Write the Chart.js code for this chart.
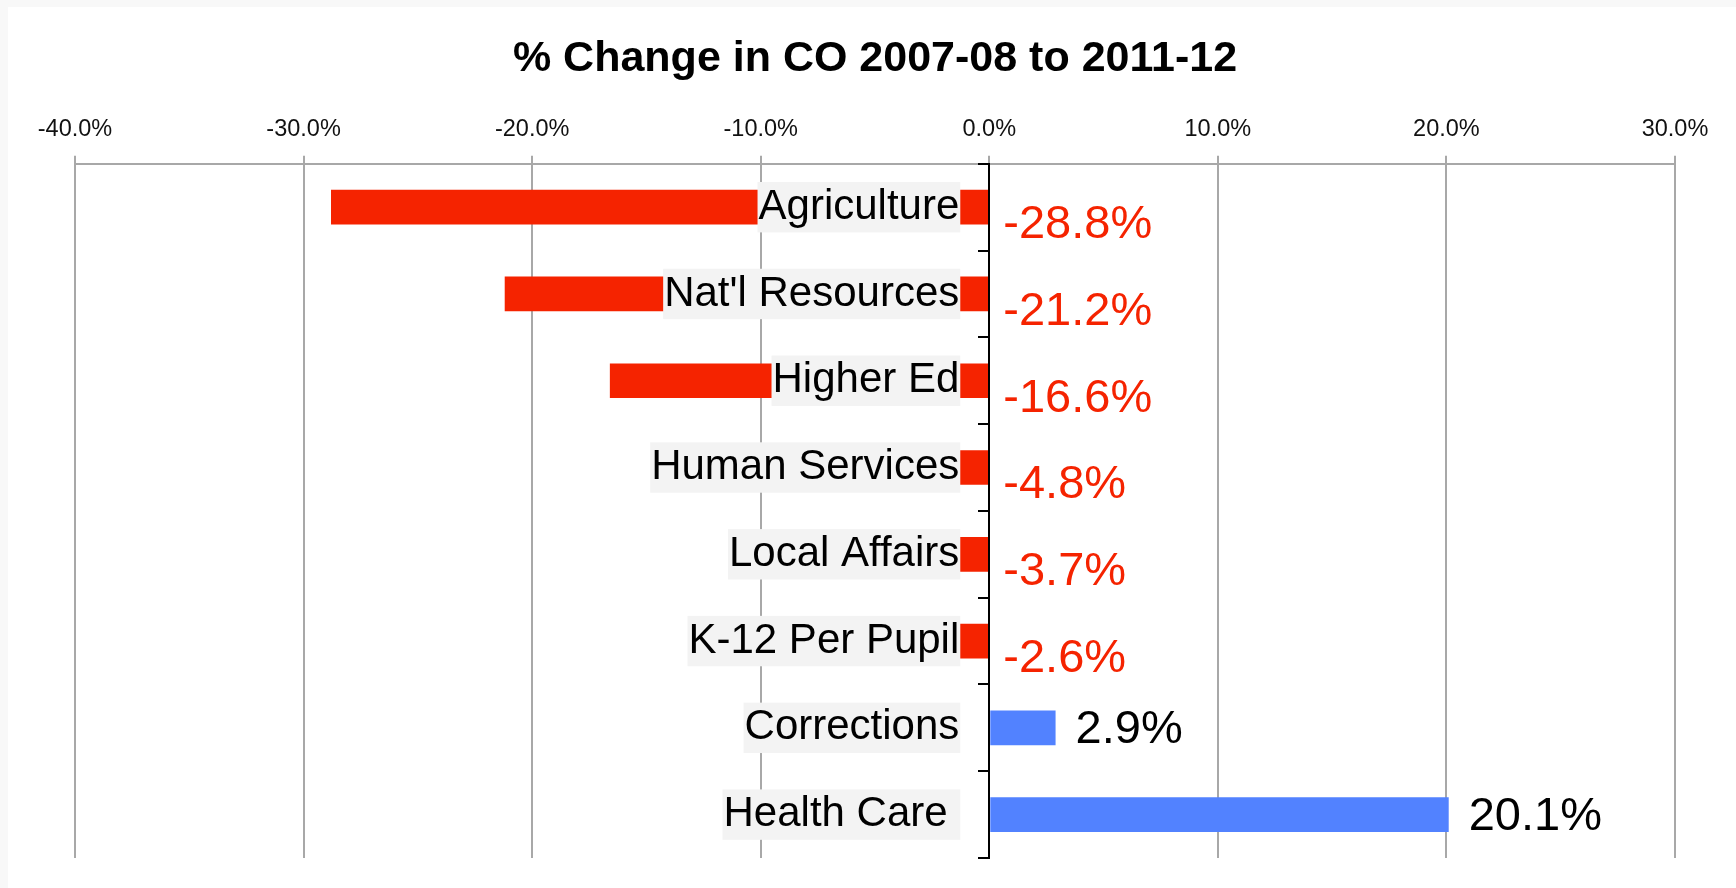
<!DOCTYPE html>
<html>
<head>
<meta charset="utf-8">
<script src="https://cdn.jsdelivr.net/npm/chart.js@4/dist/chart.umd.min.js"></script>
<style>
  html, body { margin: 0; padding: 0; background: #fff; }
  #wrap { position: relative; width: 1736px; height: 888px; background: #f8f8f8; }
  #fundo { position: absolute; left: 8px; top: 7px; right: 0; bottom: 0; background: #fff; }
  #grafico { position: absolute; left: 0; top: 0; }
</style>
</head>
<body>
<div id="wrap"><div id="fundo"></div><canvas id="grafico" width="1736" height="888"></canvas></div>
<script>
// Dados do gráfico
const categorias = ['Agriculture', "Nat'l Resources", 'Higher Ed', 'Human Services', 'Local Affairs', 'K-12 Per Pupil', 'Corrections', 'Health Care '];
const variacoes = [-28.8, -21.2, -16.6, -4.8, -3.7, -2.6, 2.9, 20.1];
const ticksX = [-40, -30, -20, -10, 0, 10, 20, 30];

const VERMELHO = '#f52300';
const AZUL = '#5282ff';
const FONTE = '"Liberation Sans", Arial, sans-serif';

// Plugin simples para escrever os valores ao lado das barras
const rotulosValores = {
    id: 'rotulosValores',
    afterDraw(chart) {
        const ctx = chart.ctx;
        const meta = chart.getDatasetMeta(0);
        const zero = chart.scales.x.getPixelForValue(0);
        ctx.save();
        ctx.font = '47px ' + FONTE;
        ctx.textAlign = 'left';
        ctx.textBaseline = 'middle';
        meta.data.forEach((bar, i) => {
            const v = variacoes[i];
            const texto = v.toFixed(1) + '%';
            if (v < 0) {
                ctx.fillStyle = VERMELHO;
                ctx.fillText(texto, zero + 14, bar.y + 18);
            } else {
                ctx.fillStyle = '#000';
                ctx.fillText(texto, bar.x + 20, bar.y + 2);
            }
        });
        ctx.restore();
    }
};

window.onload = function () {
    const ctx = document.getElementById('grafico').getContext('2d');
    new Chart(ctx, {
        type: 'bar',
        data: {
            labels: categorias,
            datasets: [{
                data: variacoes,
                backgroundColor: variacoes.map(v => v < 0 ? VERMELHO : AZUL),
                borderWidth: 0,
                categoryPercentage: 1,
                barPercentage: 0.4,
            }]
        },
        options: {
            indexAxis: 'y',
            responsive: false,
            animation: false,
            layout: {
                padding: { left: 75, right: 61, bottom: 30, top: 0 }
            },
            scales: {
                x: {
                    position: 'top',
                    min: -40,
                    max: 30,
                    afterBuildTicks: axis => { axis.ticks = ticksX.map(v => ({ value: v })); },
                    ticks: {
                        callback: v => v.toFixed(1) + '%',
                        color: '#111',
                        font: { family: FONTE, size: 23.5 },
                        padding: 12,
                        maxRotation: 0,
                    },
                    grid: {
                        color: '#a8a8a8',
                        lineWidth: 2,
                        tickLength: 8,
                    },
                    border: { color: '#a8a8a8', width: 2 },
                },
                // eixo das barras: linha preta em 0% com os tracinhos
                y: {
                    position: { x: 0 },
                    ticks: { display: false, padding: 0 },
                    grid: {
                        drawOnChartArea: false,
                        drawTicks: true,
                        tickLength: 10,
                        color: '#000',
                        lineWidth: 2,
                        offset: true,
                        z: 1,
                    },
                    border: { color: '#000', width: 2, z: 1 },
                },
                // eixo só para os nomes, um pouco à esquerda do zero
                yNomes: {
                    type: 'category',
                    axis: 'y',
                    offset: true,
                    position: { x: -1.3125 },
                    grid: { display: false },
                    border: { display: false },
                    ticks: {
                        color: '#000',
                        font: { family: FONTE, size: 42 },
                        padding: 0,
                        showLabelBackdrop: true,
                        backdropColor: '#f3f3f3',
                        backdropPadding: { x: 1, y: 0 },
                        z: 1,
                    },
                }
            },
            plugins: {
                legend: { display: false },
                tooltip: { enabled: false },
                title: {
                    display: true,
                    text: '% Change in CO 2007-08 to 2011-12',
                    color: '#000',
                    font: { family: FONTE, size: 43, weight: 'bold' },
                    padding: { top: 33, bottom: 19 },
                }
            },
        },
        plugins: [rotulosValores]
    });
};
</script>
</body>
</html>
